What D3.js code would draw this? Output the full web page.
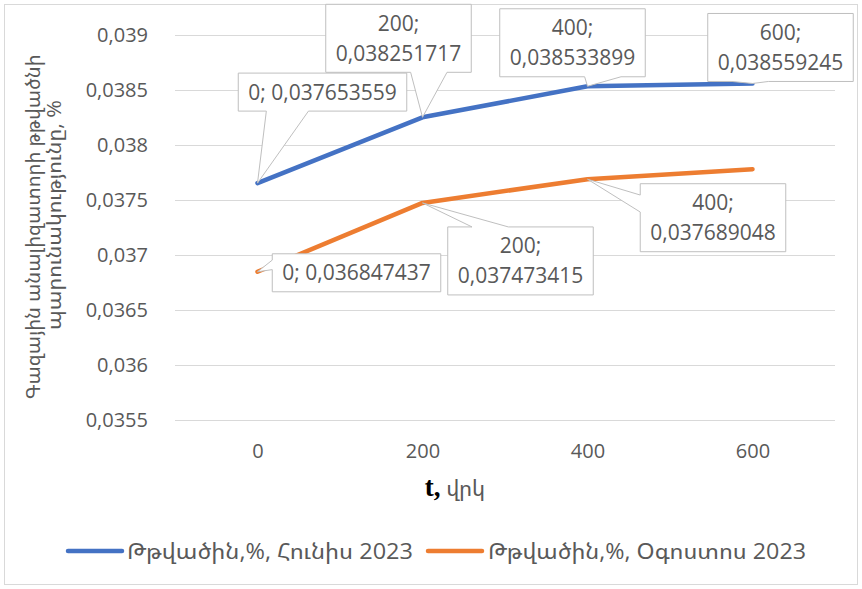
<!DOCTYPE html>
<html>
<head>
<meta charset="utf-8">
<script src="https://cdn.jsdelivr.net/npm/d3@7"></script>
<style>
  html, body { margin: 0; padding: 0; background: #ffffff; }
  svg { display: block; }
  text { font-family: "Open Sans", "Noto Sans Armenian", "DejaVu Sans", sans-serif; fill: #595959; }
</style>
</head>
<body>
<script>
// Oxygen content over time, two measurement campaigns
const times = [0, 200, 400, 600];
const juneO2 = [0.037653559, 0.038251717, 0.038533899, 0.038559245];
const augustO2 = [0.036847437, 0.037473415, 0.037689048, 0.03778];
const yTicks = [0.0355, 0.036, 0.0365, 0.037, 0.0375, 0.038, 0.0385, 0.039];
const seriesNames = ["Թթվածին,%, Հունիս 2023", "Թթվածին,%, Օգոստոս 2023"];
const yTitleLines = ["Գազային անալիզատորի թթվածնի", "պարունակությունը, %"];
const xTitleVar = "t,";
const xTitleUnit = "վրկ";

// which points carry a data label (by index into times)
const juneLabeled = [0, 1, 2, 3];
const augustLabeled = [0, 1, 2];

// callout box centre offsets from their point, in pixels
const juneLabelOffsets = [[65, -91], [-24, -79], [-15, -43.5], [28, -36]];
const augustLabelOffsets = [[99, 1], [98, 58], [125.5, 38.5]];

const W = 862, H = 589;
const plot = { left: 175, right: 835, top: 35, bottom: 420 };
const colors = ["#4472C4", "#ED7D31"];

const svg = d3.select("body").append("svg").attr("width", W).attr("height", H);

svg.append("rect").attr("x", 4.5).attr("y", 4.5).attr("width", 853).attr("height", 580)
  .attr("fill", "#fff").attr("stroke", "#d9d9d9").attr("stroke-width", 1);

const x = d3.scalePoint().domain(times).range([plot.left, plot.right]).padding(0.5);
const y = d3.scaleLinear().domain([0.0355, 0.039]).range([plot.bottom, plot.top]);

const comma = v => String(v).replace(".", ",");

// value axis with gridlines
const yAxis = svg.append("g").attr("transform", `translate(${plot.left},0)`)
  .call(d3.axisLeft(y).tickValues(yTicks).tickFormat(comma)
    .tickSize(-(plot.right - plot.left)).tickPadding(27));
yAxis.select(".domain").remove();
yAxis.selectAll(".tick line").attr("stroke", "#d9d9d9").attr("stroke-width", 1);
yAxis.selectAll(".tick text").attr("font-size", 20).style("fill", "#595959")
  .style("font-family", "'Open Sans', sans-serif");

// category axis
const xAxis = svg.append("g").attr("transform", `translate(0,${plot.bottom})`)
  .call(d3.axisBottom(x).tickSize(0).tickPadding(24));
xAxis.select(".domain").remove();
xAxis.selectAll(".tick text").attr("font-size", 20).style("fill", "#595959")
  .style("font-family", "'Open Sans', sans-serif");

// series lines
const line = d3.line().x((d, i) => x(times[i])).y(d => y(d));
[juneO2, augustO2].forEach((vals, k) => {
  svg.append("path").datum(vals).attr("d", line)
    .attr("fill", "none").attr("stroke", colors[k]).attr("stroke-width", 4.5)
    .attr("stroke-linejoin", "round").attr("stroke-linecap", "round");
});

// wedge-shaped callout around a box pointing at (tx, ty)
function calloutPath(x0, y0, w, h, tx, ty) {
  const x1 = x0 + w, y1 = y0 + h;
  const dx = (tx - (x0 + w / 2)) / w, dy = (ty - (y0 + h / 2)) / h;
  const inside = tx >= x0 && tx <= x1 && ty >= y0 && ty <= y1;
  let side = null;
  if (!inside) side = Math.abs(dx) > Math.abs(dy) ? (dx < 0 ? "left" : "right") : (dy < 0 ? "top" : "bottom");
  const bx = dx < 0 ? [x0 + w / 6, x0 + w * 5 / 12] : [x0 + w * 7 / 12, x0 + w * 5 / 6];
  const by = dy < 0 ? [y0 + h / 6, y0 + h * 5 / 12] : [y0 + h * 7 / 12, y0 + h * 5 / 6];
  const p = d3.path();
  p.moveTo(x0, y0);
  if (side === "top") { p.lineTo(bx[0], y0); p.lineTo(tx, ty); p.lineTo(bx[1], y0); }
  p.lineTo(x1, y0);
  if (side === "right") { p.lineTo(x1, by[0]); p.lineTo(tx, ty); p.lineTo(x1, by[1]); }
  p.lineTo(x1, y1);
  if (side === "bottom") { p.lineTo(bx[1], y1); p.lineTo(tx, ty); p.lineTo(bx[0], y1); }
  p.lineTo(x0, y1);
  if (side === "left") { p.lineTo(x0, by[1]); p.lineTo(tx, ty); p.lineTo(x0, by[0]); }
  p.closePath();
  return p.toString();
}

function drawLabels(vals, labeled, offsets) {
  labeled.forEach((i, j) => {
    const tx = x(times[i]), ty = y(vals[i]);
    const cx = tx + offsets[j][0], cy = ty + offsets[j][1];
    const lines = i === 0 ? [`${times[i]}; ${comma(vals[i])}`] : [`${times[i]};`, comma(vals[i])];
    const g = svg.append("g");
    const shape = g.append("path");
    const lh = 30;
    const t = g.append("text").attr("text-anchor", "middle").attr("font-size", 21)
      .style("font-family", "'Open Sans', sans-serif");
    lines.forEach((s, k) => {
      t.append("tspan").attr("x", cx)
        .attr("y", cy + (k - (lines.length - 1) / 2) * lh)
        .attr("dy", "0.36em").text(s);
    });
    const tw = d3.max(t.selectAll("tspan").nodes(), n => n.getComputedTextLength());
    const bw = tw + 20, bh = lines.length * lh + 8;
    shape.attr("d", calloutPath(cx - bw / 2, cy - bh / 2, bw, bh, tx, ty))
      .attr("fill", "#ffffff").attr("stroke", "#bfbfbf").attr("stroke-width", 1);
  });
}
drawLabels(juneO2, juneLabeled, juneLabelOffsets);
drawLabels(augustO2, augustLabeled, augustLabelOffsets);

// value axis title, two rotated lines
const yTitleCentres = [227, 215];
const yTitleBaselines = [40, 61];
const yTitleSpans = [345, 230];
yTitleLines.forEach((s, k) => {
  svg.append("text")
    .attr("transform", `translate(${yTitleBaselines[k]},${yTitleCentres[k]}) rotate(-90)`)
    .attr("text-anchor", "middle").attr("font-size", 20)
    .attr("textLength", yTitleSpans[k]).attr("lengthAdjust", "spacingAndGlyphs")
    .text(s);
});

// category axis title
const xt = svg.append("text").attr("x", 455).attr("y", 496).attr("text-anchor", "middle");
xt.append("tspan").text(xTitleVar).attr("font-size", 27).attr("font-weight", "bold")
  .style("font-family", "'Liberation Serif', serif").style("fill", "#000");
xt.append("tspan").text(" " + xTitleUnit).attr("font-size", 22);

// legend
const legendItems = [
  { lineX: 68, textX: 127, textW: 286 },
  { lineX: 428, textX: 488, textW: 318 }
];
const ly = 551;
legendItems.forEach((it, k) => {
  svg.append("line").attr("x1", it.lineX).attr("x2", it.lineX + 54)
    .attr("y1", ly).attr("y2", ly)
    .attr("stroke", colors[k]).attr("stroke-width", 4.5).attr("stroke-linecap", "round");
  svg.append("text").attr("x", it.textX).attr("y", ly).attr("dy", "0.36em")
    .attr("font-size", 21).attr("textLength", it.textW).attr("lengthAdjust", "spacingAndGlyphs")
    .text(seriesNames[k]);
});
</script>
</body>
</html>
